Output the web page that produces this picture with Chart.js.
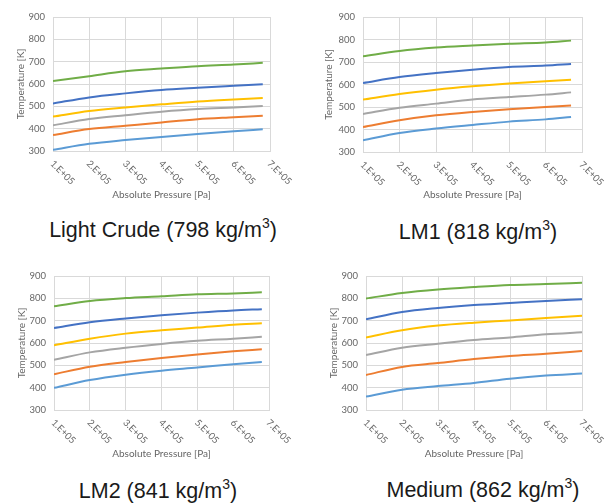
<!DOCTYPE html>
<html>
<head>
<meta charset="utf-8">
<script src="https://cdn.jsdelivr.net/npm/chart.js@4"></script>
<style>
  html, body { margin: 0; padding: 0; background: #fff; }
  #wrap { position: relative; width: 606px; height: 504px; overflow: hidden; }
  canvas { position: absolute; }
  .cap {
    position: absolute; width: 300px; text-align: center;
    font-family: "Liberation Sans", Arial, sans-serif; font-size: 21.5px;
    line-height: 24px; color: #1a1a1a; white-space: nowrap;
  }
  .cap sup { font-size: 14px; line-height: 0; vertical-align: 9px; }
</style>
</head>
<body>
<div id="wrap"></div>
<script>
// pressure points (Pa) for each panel
const pressLight = [1e5, 2e5, 3e5, 4e5, 5e5, 6e5, 6.8e5];
const pressLM1 = [1e5, 2e5, 3e5, 4e5, 5e5, 6e5, 6.7e5];
const pressLM2 = [1e5, 2e5, 3e5, 4e5, 5e5, 6e5, 6.8e5];
const pressMedium = [1e5, 2e5, 3e5, 4e5, 5e5, 6e5, 7e5];

const xTickLabels = ["1.E+05", "2.E+05", "3.E+05", "4.E+05", "5.E+05", "6.E+05", "7.E+05"];
const yTicks = [300, 400, 500, 600, 700, 800, 900];

// temperature curves (K), lowest to highest
const lightCrude = [
  [305, 332, 349, 363, 376, 388, 397],
  [372, 398, 413, 428, 442, 451, 458],
  [415, 443, 460, 476, 488, 495, 501],
  [454, 479, 495, 509, 522, 531, 537],
  [513, 540, 558, 573, 583, 592, 599],
  [613, 635, 657, 669, 680, 687, 695]
];
const lm1 = [
  [352, 384, 404, 420, 435, 445, 456],
  [411, 441, 463, 478, 490, 500, 507],
  [469, 497, 515, 533, 544, 555, 565],
  [533, 558, 577, 592, 604, 614, 621],
  [607, 633, 651, 666, 678, 684, 691],
  [725, 749, 764, 773, 781, 787, 795]
];
const lm2 = [
  [399, 434, 458, 476, 490, 505, 515],
  [460, 494, 515, 533, 549, 563, 572],
  [525, 558, 579, 596, 610, 619, 628],
  [590, 619, 642, 657, 669, 682, 688],
  [667, 693, 710, 724, 736, 746, 751],
  [764, 788, 801, 809, 818, 822, 827]
];
const medium = [
  [360, 391, 407, 421, 440, 454, 463],
  [457, 493, 510, 528, 542, 552, 564],
  [546, 579, 597, 613, 625, 639, 648],
  [625, 657, 678, 691, 701, 712, 722],
  [706, 739, 757, 770, 779, 788, 796],
  [799, 824, 840, 851, 860, 864, 870]
];

const lineColors = ["#5b9bd5", "#ed7d31", "#a5a5a5", "#ffc000", "#4472c4", "#70ad47"];

const panels = [
  { name: "Light Crude", dens: "798", x: pressLight, y: lightCrude,
    left: 0, top: 0, w: 303, h: 210, padTop: 17, padRight: 33, yW: 53, xH: 59, yTitlePad: 15, xTitlePad: 9,
    capX: 163, capY: 230 },
  { name: "LM1", dens: "818", x: pressLM1, y: lm1,
    left: 303, top: 0, w: 303, h: 210, padTop: 17, padRight: 24, yW: 60, xH: 58, yTitlePad: 20, xTitlePad: 9,
    capX: 478, capY: 232 },
  { name: "LM2", dens: "841", x: pressLM2, y: lm2,
    left: 0, top: 252, w: 303, h: 218, padTop: 24, padRight: 34, yW: 54, xH: 60, yTitlePad: 16, xTitlePad: 10,
    capX: 158, capY: 491 },
  { name: "Medium", dens: "862", x: pressMedium, y: medium,
    left: 303, top: 252, w: 303, h: 218, padTop: 24, padRight: 24, yW: 63, xH: 60, yTitlePad: 25, xTitlePad: 10,
    capX: 483, capY: 490 }
];

const gridColor = "#d9d9d9";
const tickColor = "#666666";
const tickFont = "Lato, 'Open Sans', sans-serif";

// x tick labels in the reference run downward to the right
const slantLabels = {
  id: "slantLabels",
  afterDraw(chart) {
    const xs = chart.scales.x;
    const ctx = chart.ctx;
    ctx.save();
    ctx.fillStyle = tickColor;
    ctx.font = "9.5px " + tickFont;
    ctx.textAlign = "left";
    ctx.textBaseline = "middle";
    xs.ticks.forEach((t, i) => {
      const px = xs.getPixelForValue(t.value);
      ctx.save();
      ctx.translate(px - 1, xs.top + 11);
      ctx.rotate(Math.PI / 4);
      ctx.fillText(xTickLabels[i], 0, 0);
      ctx.restore();
    });
    ctx.restore();
  }
};

const wrap = document.getElementById("wrap");

panels.forEach((p) => {
  const canvas = document.createElement("canvas");
  canvas.width = p.w;
  canvas.height = p.h;
  canvas.style.left = p.left + "px";
  canvas.style.top = p.top + "px";
  canvas.style.width = p.w + "px";
  canvas.style.height = p.h + "px";
  wrap.appendChild(canvas);

  const cap = document.createElement("div");
  cap.className = "cap";
  cap.style.left = (p.capX - 150) + "px";
  cap.style.top = (p.capY - 12) + "px";
  cap.innerHTML = p.name + " (" + p.dens + " kg/m<sup>3</sup>)";
  wrap.appendChild(cap);

  new Chart(canvas, {
    type: "line",
    data: {
      datasets: p.y.map((vals, i) => ({
        data: vals.map((v, j) => ({ x: p.x[j], y: v })),
        borderColor: lineColors[i],
        borderWidth: 2,
        pointRadius: 0,
        cubicInterpolationMode: "monotone",
        fill: false
      }))
    },
    options: {
      responsive: false,
      animation: false,
      events: [],
      layout: { padding: { top: p.padTop, right: p.padRight, left: 0, bottom: 0 } },
      plugins: { legend: { display: false }, tooltip: { enabled: false } },
      scales: {
        x: {
          type: "linear",
          min: 1e5,
          max: 7e5,
          afterBuildTicks: (s) => { s.ticks = xTickLabels.map((_, i) => ({ value: (i + 1) * 1e5 })); },
          afterFit: (s) => { s.height = p.xH; },
          grid: { color: gridColor, drawTicks: false },
          border: { color: gridColor },
          ticks: { display: false },
          title: {
            display: true, text: "Absolute Pressure [Pa]", color: tickColor,
            font: { family: tickFont, size: 10 }, padding: { top: 0, bottom: p.xTitlePad }
          }
        },
        y: {
          min: 300,
          max: 900,
          afterBuildTicks: (s) => { s.ticks = yTicks.map((v) => ({ value: v })); },
          afterFit: (s) => { s.width = p.yW; },
          grid: { color: gridColor, drawTicks: false },
          border: { color: gridColor },
          ticks: { color: tickColor, padding: 8, font: { family: tickFont, size: 9.5 } },
          title: {
            display: true, text: "Temperature [K]", color: tickColor,
            font: { family: tickFont, size: 10 }, padding: { top: p.yTitlePad, bottom: 0 }
          }
        }
      }
    },
    plugins: [slantLabels]
  });
});
</script>
</body>
</html>
